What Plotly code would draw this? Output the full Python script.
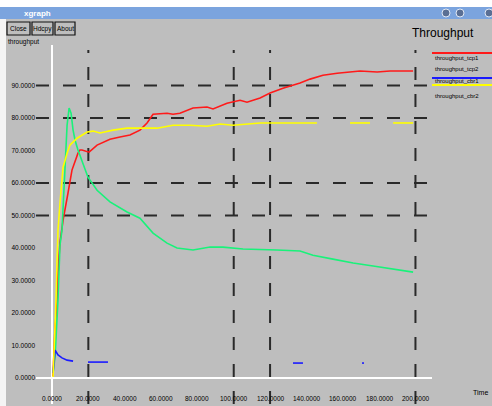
import plotly.graph_objects as go

# ---------------- data ----------------
SERIES_NAMES = ["throughput_tcp1", "throughput_tcp2", "throughput_cbr1", "throughput_cbr2"]
SERIES_COLORS = ["#ff1a1a", "#19f27a", "#1a1aff", "#ffff00"]

RED_X = [0.5, 1.7, 2.8, 3.3, 4.4, 6.1, 8.8, 11.0, 14.3, 15.4, 16.5, 20.4, 24.8, 31.9, 37.4, 42.9,
         48.4, 52.3, 55.6, 63.3, 66.6, 70.4, 77.6, 85.3, 88.6, 96.3, 103.5, 107.3, 114.5, 120.0,
         127.1, 136.5, 142.0, 149.1, 156.9, 162.4, 169.5, 178.9, 186.0, 198.7]
RED_Y = [0.5, 15.7, 23.4, 32.3, 41.8, 48.6, 56.9, 64.0, 69.2, 70.2, 70.2, 69.5, 71.7, 73.5, 74.2, 74.8,
         76.3, 78.5, 81.2, 81.5, 81.2, 81.5, 83.1, 83.4, 82.8, 84.6, 85.5, 84.9, 86.2, 87.7,
         89.2, 90.8, 92.0, 93.2, 93.8, 94.2, 94.5, 94.2, 94.5, 94.5]

GREEN_X = [0.6, 1.7, 3.3, 4.4, 5.5, 6.1, 7.2, 8.3, 9.4, 10.5, 11.6, 12.7, 14.3, 17.1, 19.8, 24.8,
           31.9, 41.3, 48.4, 55.6, 63.3, 68.8, 77.6, 87.0, 94.1, 105.1, 116.1, 123.8, 136.5,
           143.6, 154.6, 165.7, 176.7, 187.7, 198.7]
GREEN_Y = [1.8, 6.5, 24.0, 40.9, 45.5, 53.2, 67.0, 77.8, 83.1, 81.5, 76.3, 73.2, 70.2, 66.2, 61.8, 57.8,
           54.2, 51.1, 49.2, 44.6, 41.5, 40.0, 39.4, 40.3, 40.3, 39.7, 39.4, 39.4, 39.1,
           37.8, 36.6, 35.4, 34.5, 33.5, 32.6]

BLUE_X = [0.6, 1.7, 3.3, 5.5, 8.3, 11.6, None, 19.8, 30.8, None, 132.6, 138.1, None, 170.6, 171.7]
BLUE_Y = [1.5, 8.6, 7.1, 6.2, 5.5, 5.2, None, 4.9, 4.9, None, 4.6, 4.6, None, 4.6, 4.6]

YELLOW_X = [0.6, 1.7, 2.2, 2.8, 3.3, 4.4, 5.5, 6.1, 8.3, 9.9, 13.8, 19.3, 22.6, 26.4, 33.6, 41.3,
            48.4, 57.8, 66.6, 75.9, 85.3, 92.5, 99.6, 109.0, 114.5, 127.1, 145.8, None,
            164.0, 175.0, None, 187.7, 198.7]
YELLOW_Y = [0.3, 14.8, 24.0, 36.3, 45.5, 53.8, 60.0, 64.9, 69.2, 71.7, 73.8, 75.7, 76.0, 75.4, 76.3, 76.9,
            76.9, 76.9, 77.8, 77.8, 77.5, 78.2, 77.8, 78.2, 78.5, 78.5, 78.5, None,
            78.5, 78.5, None, 78.5, 78.5]

X_TICKS = [0, 20, 40, 60, 80, 100, 120, 140, 160, 180, 200]
Y_TICKS = [0, 10, 20, 30, 40, 50, 60, 70, 80, 90]
GRID_X = [20, 100, 120, 200]
GRID_Y = [50, 60, 80, 90]

# ---------------- layout helpers ----------------
W, H = 492, 406
L, R, T, B = 36, 432, 45, 404  # plot area in pixels


def px(x):
    return (x - L) / (R - L)


def py(y):
    return (B - y) / (B - T)


BG = "#bebebe"
FONT = "Liberation Sans"

fig = go.Figure()
series = [(RED_X, RED_Y), (GREEN_X, GREEN_Y), (BLUE_X, BLUE_Y), (YELLOW_X, YELLOW_Y)]
for (xs, ys), name, col in zip(series, SERIES_NAMES, SERIES_COLORS):
    fig.add_trace(go.Scatter(x=xs, y=ys, mode="lines", name=name,
                             line=dict(color=col, width=1.6), connectgaps=False,
                             showlegend=False, hoverinfo="skip"))

shapes = []
# dashed grid lines
for gx in GRID_X:
    shapes.append(dict(type="line", xref="x", yref="paper", x0=gx, x1=gx, y0=0, y1=py(50),
                       line=dict(color="#2a2a2a", width=2, dash="13px,14px"), layer="below"))
for gy in GRID_Y:
    shapes.append(dict(type="line", xref="paper", yref="y", x0=0, x1=1, y0=gy, y1=gy,
                       line=dict(color="#2a2a2a", width=2, dash="13px,14px"), layer="below"))

# window chrome: white top strip, blue title bar, white left strip
shapes.append(dict(type="rect", xref="paper", yref="paper", x0=px(0), x1=px(W), y0=py(7), y1=py(-2),
                   fillcolor="white", line=dict(width=0), layer="above"))
shapes.append(dict(type="rect", xref="paper", yref="paper", x0=px(0), x1=px(W), y0=py(19), y1=py(7),
                   fillcolor="#7ba4de", line=dict(width=0), layer="above"))
shapes.append(dict(type="rect", xref="paper", yref="paper", x0=px(-2), x1=px(6), y0=py(H + 2), y1=py(19),
                   fillcolor="#f4f4f4", line=dict(width=0), layer="above"))
# title bar window buttons
for cx in [446, 460, 489]:
    shapes.append(dict(type="circle", xref="paper", yref="paper", x0=px(cx - 4), x1=px(cx + 4),
                       y0=py(17), y1=py(9), fillcolor="#5a6f94", line=dict(color="#dfe8f5", width=1),
                       layer="above"))
# menu buttons
buttons = [("Close", 7, 30), ("Hdcpy", 32, 53), ("About", 55, 75)]
for label, x0, x1 in buttons:
    shapes.append(dict(type="rect", xref="paper", yref="paper", x0=px(x0), x1=px(x1), y0=py(35), y1=py(22),
                       fillcolor=BG, line=dict(color="#111111", width=1.2), layer="above"))

# legend lines (above the names, as xgraph draws them)
legend_line_y = [53, None, 78, 85]
legend_text_y = [58, 69, 81, 96]
for ly, col in zip(legend_line_y, SERIES_COLORS):
    if ly is None:
        continue
    shapes.append(dict(type="line", xref="paper", yref="paper", x0=px(432), x1=px(495),
                       y0=py(ly), y1=py(ly), line=dict(color=col, width=2), layer="above"))

annotations = []
for label, x0, x1 in buttons:
    annotations.append(dict(text=label, xref="paper", yref="paper", x=px((x0 + x1) / 2), y=py(28.5),
                            showarrow=False, xanchor="center", yanchor="middle",
                            font=dict(family=FONT, size=6.5, color="black")))
annotations.append(dict(text="<b>xgraph</b>", xref="paper", yref="paper", x=px(22), y=py(13),
                        showarrow=False, xanchor="left", yanchor="middle",
                        font=dict(family=FONT, size=8, color="white")))
annotations.append(dict(text="Throughput", xref="paper", yref="paper", x=px(443), y=py(33),
                        showarrow=False, xanchor="center", yanchor="middle",
                        font=dict(family=FONT, size=12, color="black")))
annotations.append(dict(text="throughput", xref="paper", yref="paper", x=px(6), y=py(42),
                        showarrow=False, xanchor="left", yanchor="middle",
                        font=dict(family=FONT, size=6.5, color="black")))
annotations.append(dict(text="Time", xref="paper", yref="paper", x=px(490), y=py(392),
                        showarrow=False, xanchor="right", yanchor="middle",
                        font=dict(family=FONT, size=7, color="black")))
for name, ty in zip(SERIES_NAMES, legend_text_y):
    annotations.append(dict(text=name, xref="paper", yref="paper", x=px(433), y=py(ty),
                            showarrow=False, xanchor="left", yanchor="middle",
                            font=dict(family=FONT, size=6, color="black")))
# x tick labels drawn as annotations at the bottom (inside the window)
for xv in X_TICKS:
    annotations.append(dict(text=f"{xv:.4f}", xref="x", yref="paper", x=xv, y=py(398),
                            showarrow=False, xanchor="center", yanchor="middle",
                            font=dict(family=FONT, size=6.5, color="black")))

fig.update_layout(
    width=W, height=H,
    margin=dict(l=L, r=W - R, t=T, b=H - B, pad=0),
    paper_bgcolor=BG, plot_bgcolor=BG,
    shapes=shapes, annotations=annotations,
    hovermode=False,
    xaxis=dict(range=[-8.8, 209.1], tickvals=X_TICKS, showticklabels=False, showgrid=False,
               zeroline=True, zerolinecolor="white", zerolinewidth=2, showline=False,
               ticks="", fixedrange=True),
    yaxis=dict(range=[-8.0, 102.5], tickvals=Y_TICKS, tickformat=".4f", showgrid=False,
               zeroline=True, zerolinecolor="white", zerolinewidth=2, showline=False,
               ticks="", fixedrange=True, tickfont=dict(family=FONT, size=6.5, color="black")),
)

fig.write_html("out.html", config={"displayModeBar": False},
               post_script="document.body.style.margin='0';document.body.style.padding='0';")
